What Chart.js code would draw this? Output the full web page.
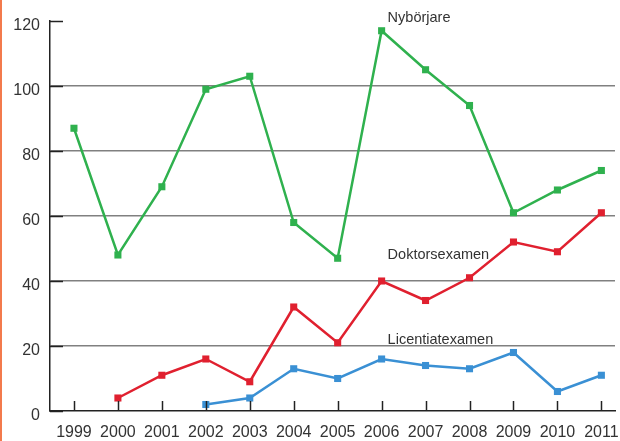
<!DOCTYPE html>
<html>
<head>
<meta charset="utf-8">
<script src="https://cdn.jsdelivr.net/npm/chart.js@4/dist/chart.umd.min.js"></script>
<style>
html,body{margin:0;padding:0;background:#fff;}
#wrap{width:620px;height:441px;position:relative;}
</style>
</head>
<body>
<div id="wrap"><canvas id="chart" width="620" height="441"></canvas></div>
<script>
const years = [1999,2000,2001,2002,2003,2004,2005,2006,2007,2008,2009,2010,2011];
const nyborjare = [87,48,69,99,103,58,47,117,105,94,61,68,74];
const doktorsexamen = [null,4,11,16,9,32,21,40,34,41,52,49,61];
const licentiatexamen = [null,null,null,2,4,13,10,16,14,13,18,6,11];
const yTicks = [0,20,40,60,80,100,120];

function pts(vals){
  return years.map((y,i)=>({x:y,y:vals[i]})).filter(p=>p.y!==null);
}

const green = '#2fb14e', red = '#e0202f', blue = '#3a90d4';
const fam = '"Liberation Sans", Arial, sans-serif';

function ds(label, vals, color){
  return {
    label:label,
    data:pts(vals),
    borderColor:color,
    backgroundColor:color,
    borderWidth:2.5,
    pointStyle:'rect',
    pointRadius:5,
    pointBorderWidth:0,
    tension:0
  };
}

const extras = {
  id:'extras',
  beforeDraw(chart){
    const c = chart.ctx;
    c.save();
    c.fillStyle = '#f37a4c';
    c.fillRect(0,0,2,chart.height);
    c.restore();
  },
  afterDatasetsDraw(chart){
    const c = chart.ctx, xs = chart.scales.x, ys = chart.scales.y, a = chart.chartArea;
    c.save();
    // short dark ticks on the y axis
    c.strokeStyle = '#222';
    c.lineWidth = 1.5;
    yTicks.forEach(v=>{
      const py = Math.round(ys.getPixelForValue(v))+0.5;
      c.beginPath(); c.moveTo(a.left,py); c.lineTo(a.left+13,py); c.stroke();
    });
    // upward ticks on the x axis
    years.forEach(y=>{
      const px = Math.round(xs.getPixelForValue(y))+0.5;
      c.beginPath(); c.moveTo(px,a.bottom); c.lineTo(px,a.bottom-10); c.stroke();
    });
    // series labels
    c.fillStyle = '#333';
    c.font = '14.5px ' + fam;
    c.textBaseline = 'middle';
    const lx = xs.getPixelForValue(2006) + 6;
    c.fillText('Nybörjare', lx, ys.getPixelForValue(121));
    c.fillText('Doktorsexamen', lx, ys.getPixelForValue(48));
    c.fillText('Licentiatexamen', lx, ys.getPixelForValue(22));
    c.restore();
  }
};

new Chart(document.getElementById('chart'),{
  type:'line',
  data:{datasets:[ds('Nybörjare',nyborjare,green),ds('Doktorsexamen',doktorsexamen,red),ds('Licentiatexamen',licentiatexamen,blue)]},
  options:{
    responsive:false,
    animation:false,
    layout:{padding:{top:21,right:0,left:0,bottom:0}},
    plugins:{legend:{display:false},tooltip:{enabled:false}},
    scales:{
      x:{
        type:'linear',
        min:1998.455,
        max:2011.31,
        afterFit(s){s.height=30;s.paddingLeft=0;s.paddingRight=0;},
        afterBuildTicks(s){s.ticks = years.map(y=>({value:y}));},
        grid:{display:false,drawTicks:false},
        border:{display:true,color:'#222',width:1.5},
        ticks:{
          padding:12,
          color:'#333',
          font:{size:16,family:fam},
          callback:v=>String(v),
          maxRotation:0,
          autoSkip:false
        }
      },
      y:{
        min:0,
        max:120,
        afterFit(s){s.width=50;},
        afterBuildTicks(s){s.ticks = yTicks.map(v=>({value:v}));},
        grid:{
          drawTicks:false,
          color:ctx=>(ctx.tick && (ctx.tick.value===0||ctx.tick.value===120)) ? 'rgba(0,0,0,0)' : '#808080',
          lineWidth:1.5
        },
        border:{display:true,color:'#222',width:1.5},
        ticks:{
          padding:10,
          labelOffset:5,
          color:'#333',
          font:{size:16,family:fam}
        }
      }
    }
  },
  plugins:[extras]
});
</script>
</body>
</html>
